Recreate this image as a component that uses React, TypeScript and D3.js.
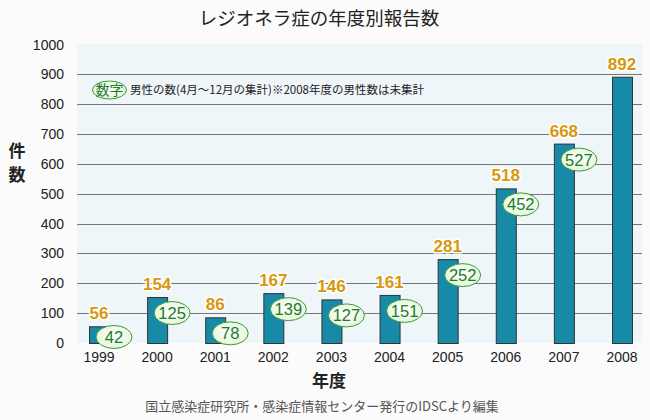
import React from "react";
import * as d3 from "d3";

const years = ["1999", "2000", "2001", "2002", "2003", "2004", "2005", "2006", "2007", "2008"];
const totals = [56, 154, 86, 167, 146, 161, 281, 518, 668, 892];
const males: (number | null)[] = [42, 125, 78, 139, 127, 151, 252, 452, 527, null];
const yTicks = [0, 100, 200, 300, 400, 500, 600, 700, 800, 900, 1000];

const title = "レジオネラ症の年度別報告数";
const yLabel = ["件", "数"];
const xLabel = "年度";
const legendKey = "数字";
const legendText = "男性の数(4月～12月の集計)※2008年度の男性数は未集計";
const source = "国立感染症研究所・感染症情報センター発行のIDSCより編集";

const W = 650, H = 420;
const plotL = 77, plotR = 642, plotT = 44, plotB = 343;
const font = "'Liberation Sans', Arial, sans-serif";
const jfont = "'Noto Sans CJK JP', sans-serif";

export default function App() {
  const x = d3.scalePoint<string>().domain(years).range([99, 622]);
  const y = d3.scaleLinear().domain([0, 1000]).range([plotB, plotT + 0.5]);
  const barW = 20;

  return (
    <svg width={W} height={H} style={{ position: "absolute", left: 0, top: 0 }} xmlns="http://www.w3.org/2000/svg">
      <defs>
        <radialGradient id="eg" cx="50%" cy="45%" r="60%">
          <stop offset="0%" stopColor="#ffffff" />
          <stop offset="100%" stopColor="#e2f5d5" />
        </radialGradient>
      </defs>
      <rect x={0} y={0} width={W} height={H} fill="#fbfbfb" />
      <text x={319} y={25} textAnchor="middle" fontFamily={jfont} fontSize={18.5} fill="#222">{title}</text>
      <rect x={plotL} y={plotT} width={plotR - plotL} height={plotB - plotT} fill="#eff6f9" />
      {yTicks.filter(t => t > 0 && t < 1000).map(t => (
        <line key={t} x1={plotL} x2={plotR} y1={Math.round(y(t)) + 0.5} y2={Math.round(y(t)) + 0.5} stroke="#777" strokeWidth={1} />
      ))}
      {yTicks.map(t => (
        <text key={t} x={64} y={y(t) + 5} textAnchor="end" fontFamily={font} fontSize={14} fill="#222">{t}</text>
      ))}
      {yLabel.map((c, i) => (
        <text key={c} x={17} y={157 + i * 24} textAnchor="middle" fontFamily={jfont} fontSize={17} fontWeight="bold" fill="#222">{c}</text>
      ))}
      {years.map((yr, i) => {
        const cx = x(yr)!;
        const top = y(totals[i]);
        return (
          <g key={yr}>
            <rect x={cx - barW / 2 + 0.5} y={top + 0.5} width={barW} height={plotB - top} fill="#168aa6" stroke="#333" strokeWidth={1} />
            <text x={cx} y={362} textAnchor="middle" fontFamily={font} fontSize={14} fill="#222">{yr}</text>
          </g>
        );
      })}
      {years.map((yr, i) => {
        const cx = x(yr)!;
        const top = y(totals[i]);
        const m = males[i];
        const ey = Math.min(top + 16, plotB - 6);
        return (
          <g key={"l" + yr}>
            <text x={cx} y={top - 7} textAnchor="middle" fontFamily={font} fontSize={17} fontWeight="bold" fill="#d9970c" stroke="#ffffff" strokeWidth={3} strokeLinejoin="round" style={{ paintOrder: "stroke" }}>{totals[i]}</text>
            {m !== null && (
              <g>
                <ellipse cx={cx + 15} cy={ey} rx={18} ry={11.5} fill="url(#eg)" stroke="#3a9a3a" strokeWidth={1} />
                <text x={cx + 15} y={ey + 6} textAnchor="middle" fontFamily={font} fontSize={16.5} fill="#1c7a2c">{m}</text>
              </g>
            )}
          </g>
        );
      })}
      <ellipse cx={109.5} cy={90} rx={17} ry={9} fill="url(#eg)" stroke="#3a9a3a" strokeWidth={1} />
      <text x={109.5} y={95} textAnchor="middle" fontFamily={jfont} fontSize={14} fill="#1c7a2c">{legendKey}</text>
      <text x={130} y={93.5} fontFamily={jfont} fontSize={11.5} fill="#222">{legendText}</text>
      <text x={329} y={387} textAnchor="middle" fontFamily={jfont} fontSize={17} fontWeight="bold" fill="#222">{xLabel}</text>
      <text x={322} y={411} textAnchor="middle" fontFamily={jfont} fontSize={13} fill="#555">{source}</text>
    </svg>
  );
}
